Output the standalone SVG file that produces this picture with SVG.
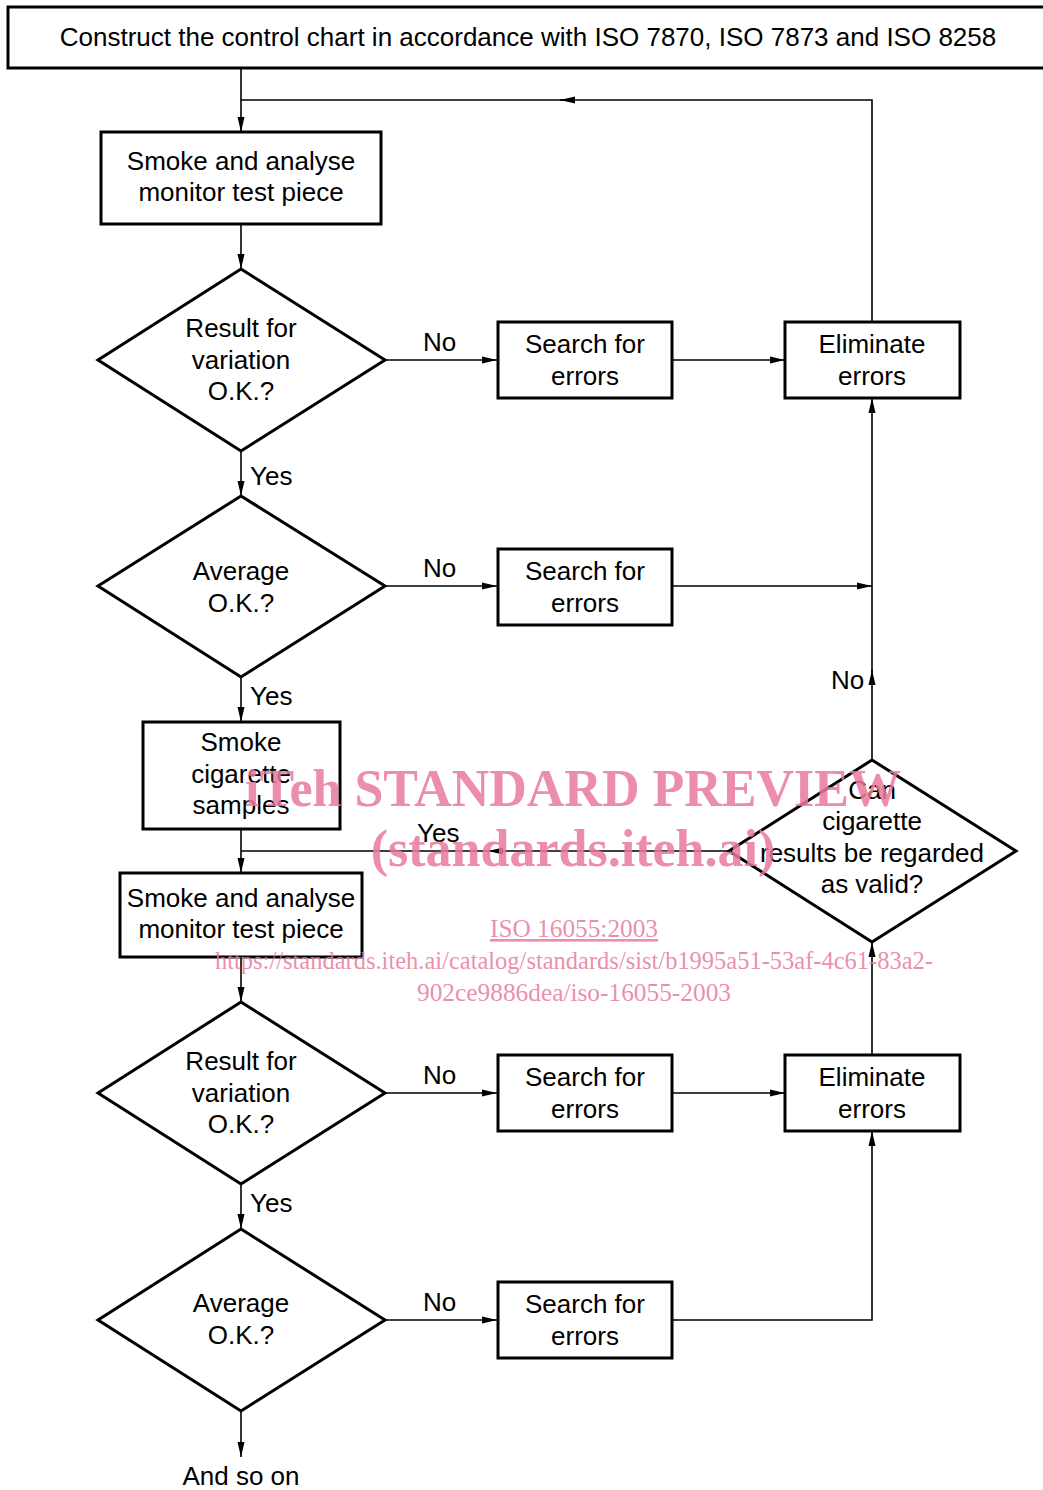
<svg xmlns="http://www.w3.org/2000/svg" width="1043" height="1490" viewBox="0 0 1043 1490">
<defs>
<style>
.box{fill:#fff;stroke:#000;stroke-width:3}
.ln{fill:none;stroke:#000;stroke-width:1.6}
.t{font-family:"Liberation Sans",Arial,sans-serif;font-size:26px;fill:#000;text-anchor:middle}
.lb{font-family:"Liberation Sans",Arial,sans-serif;font-size:26px;fill:#000}
.wm{font-family:"Liberation Serif","Times New Roman",serif;fill:#e8799c;fill-opacity:0.85;text-anchor:middle}
</style>
<marker id="ah" markerUnits="userSpaceOnUse" markerWidth="16" markerHeight="8" refX="15" refY="4" orient="auto">
<path d="M0,0.5 L15,4 L0,7.5 Z" fill="#000"/>
</marker>
</defs>
<rect width="1043" height="1490" fill="#fff"/>

<g id="connectors">
<path class="ln" d="M241,68 V132" marker-end="url(#ah)"/>
<path class="ln" d="M872,321 V100 H560" marker-end="url(#ah)"/>
<path class="ln" d="M565,100 H241"/>
<path class="ln" d="M241,224 V269" marker-end="url(#ah)"/>
<path class="ln" d="M385,360 H497" marker-end="url(#ah)"/>
<path class="ln" d="M672,360 H785" marker-end="url(#ah)"/>
<path class="ln" d="M241,451 V496" marker-end="url(#ah)"/>
<path class="ln" d="M385,586 H497" marker-end="url(#ah)"/>
<path class="ln" d="M672,586 H872" marker-end="url(#ah)"/>
<path class="ln" d="M872,760 V670" marker-end="url(#ah)"/>
<path class="ln" d="M872,672 V398" marker-end="url(#ah)"/>
<path class="ln" d="M241,677 V722" marker-end="url(#ah)"/>
<path class="ln" d="M241,829 V873" marker-end="url(#ah)"/>
<path class="ln" d="M729,851 H488" marker-end="url(#ah)"/>
<path class="ln" d="M490,851 H241"/>
<path class="ln" d="M241,957 V1002" marker-end="url(#ah)"/>
<path class="ln" d="M872,1055 V942" marker-end="url(#ah)"/>
<path class="ln" d="M385,1093 H497" marker-end="url(#ah)"/>
<path class="ln" d="M672,1093 H785" marker-end="url(#ah)"/>
<path class="ln" d="M241,1184 V1229" marker-end="url(#ah)"/>
<path class="ln" d="M385,1320 H497" marker-end="url(#ah)"/>
<path class="ln" d="M672,1320 H872 V1131" marker-end="url(#ah)"/>
<path class="ln" d="M241,1411 V1457" marker-end="url(#ah)"/>
<text class="lb" x="423" y="351">No</text>
<text class="lb" x="423" y="577">No</text>
<text class="lb" x="423" y="1084">No</text>
<text class="lb" x="423" y="1311">No</text>
<text class="lb" x="831" y="689">No</text>
<text class="lb" x="250" y="485">Yes</text>
<text class="lb" x="250" y="705">Yes</text>
<text class="lb" x="250" y="1212">Yes</text>
<text class="lb" x="417" y="842">Yes</text>
</g>

<g id="n_start">
<rect class="box" x="8" y="7" width="1045" height="61"/>
<text class="t" x="528" y="46">Construct the control chart in accordance with ISO 7870, ISO 7873 and ISO 8258</text>
</g>
<g id="n_smoke1">
<rect class="box" x="101" y="132" width="280" height="92"/>
<text class="t" x="241" y="170">Smoke and analyse</text>
<text class="t" x="241" y="201">monitor test piece</text>
</g>
<g id="n_d1">
<polygon class="box" points="241,269 385,360 241,451 98,360"/>
<text class="t" x="241" y="337">Result for</text>
<text class="t" x="241" y="369">variation</text>
<text class="t" x="241" y="400">O.K.?</text>
</g>
<g id="n_s1">
<rect class="box" x="498" y="322" width="174" height="76"/>
<text class="t" x="585" y="353">Search for</text>
<text class="t" x="585" y="385">errors</text>
</g>
<g id="n_e1">
<rect class="box" x="785" y="322" width="175" height="76"/>
<text class="t" x="872" y="353">Eliminate</text>
<text class="t" x="872" y="385">errors</text>
</g>
<g id="n_d2">
<polygon class="box" points="241,496 385,586 241,677 98,586"/>
<text class="t" x="241" y="580">Average</text>
<text class="t" x="241" y="612">O.K.?</text>
</g>
<g id="n_s2">
<rect class="box" x="498" y="549" width="174" height="76"/>
<text class="t" x="585" y="580">Search for</text>
<text class="t" x="585" y="612">errors</text>
</g>
<g id="n_samples">
<rect class="box" x="143" y="722" width="197" height="107"/>
<text class="t" x="241" y="751">Smoke</text>
<text class="t" x="241" y="783">cigarette</text>
<text class="t" x="241" y="814">samples</text>
</g>
<g id="n_smoke2">
<rect class="box" x="120" y="873" width="242" height="84"/>
<text class="t" x="241" y="907">Smoke and analyse</text>
<text class="t" x="241" y="938">monitor test piece</text>
</g>
<g id="n_valid">
<polygon class="box" points="872,760 1016,851 872,942 729,851"/>
<text class="t" x="872" y="799">Can</text>
<text class="t" x="872" y="830">cigarette</text>
<text class="t" x="872" y="862">results be regarded</text>
<text class="t" x="872" y="893">as valid?</text>
</g>
<g id="n_d3">
<polygon class="box" points="241,1002 385,1093 241,1184 98,1093"/>
<text class="t" x="241" y="1070">Result for</text>
<text class="t" x="241" y="1102">variation</text>
<text class="t" x="241" y="1133">O.K.?</text>
</g>
<g id="n_s3">
<rect class="box" x="498" y="1055" width="174" height="76"/>
<text class="t" x="585" y="1086">Search for</text>
<text class="t" x="585" y="1118">errors</text>
</g>
<g id="n_e2">
<rect class="box" x="785" y="1055" width="175" height="76"/>
<text class="t" x="872" y="1086">Eliminate</text>
<text class="t" x="872" y="1118">errors</text>
</g>
<g id="n_d4">
<polygon class="box" points="241,1229 385,1320 241,1411 98,1320"/>
<text class="t" x="241" y="1312">Average</text>
<text class="t" x="241" y="1344">O.K.?</text>
</g>
<g id="n_s4">
<rect class="box" x="498" y="1282" width="174" height="76"/>
<text class="t" x="585" y="1313">Search for</text>
<text class="t" x="585" y="1345">errors</text>
</g>
<g id="n_end">
<text class="t" x="241" y="1485">And so on</text>
</g>

<g id="watermark">
<text class="wm" x="573" y="806" font-size="52" font-weight="bold">iTeh STANDARD PREVIEW</text>
<text class="wm" x="573" y="866" font-size="52" font-weight="bold">(standards.iteh.ai)</text>
<text class="wm" x="574" y="937" font-size="26" text-decoration="underline" textLength="168" lengthAdjust="spacingAndGlyphs">ISO 16055:2003</text>
<text class="wm" x="574" y="969" font-size="26" textLength="718" lengthAdjust="spacingAndGlyphs">https://standards.iteh.ai/catalog/standards/sist/b1995a51-53af-4c61-83a2-</text>
<text class="wm" x="574" y="1001" font-size="26" textLength="314" lengthAdjust="spacingAndGlyphs">902ce9886dea/iso-16055-2003</text>
</g>
</svg>
